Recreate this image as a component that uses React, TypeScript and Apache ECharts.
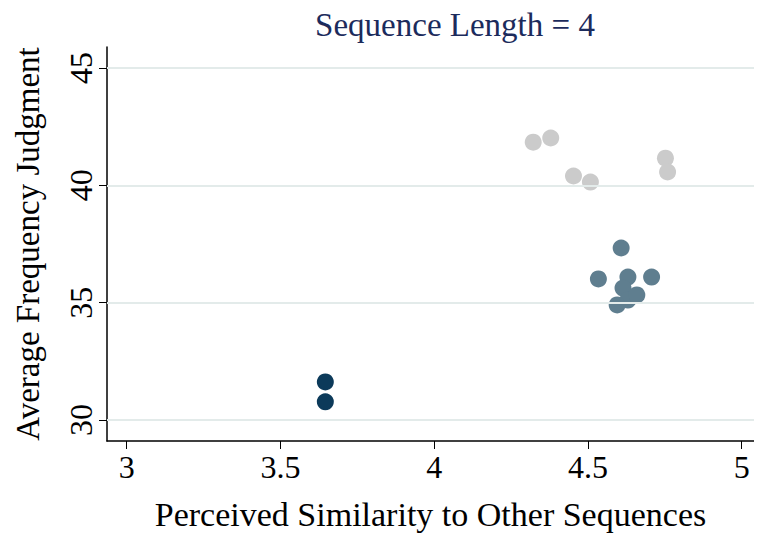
import React, { useEffect, useRef } from "react";
import * as echarts from "echarts";

const lightPts = [
  [4.322, 41.84], [4.379, 42.02], [4.453, 40.4], [4.508, 40.14], [4.752, 41.16], [4.759, 40.57],
];
const midPts = [
  [4.608, 37.33], [4.534, 36.01], [4.63, 36.09], [4.707, 36.09], [4.614, 35.62], [4.63, 35.11], [4.659, 35.33], [4.595, 34.9],
];
const darkPts = [
  [3.646, 31.62], [3.646, 30.77],
];
const xTicks = [3, 3.5, 4, 4.5, 5];
const yTicks = [30, 35, 40, 45];

const font = "Liberation Serif";

const App = () => {
  const ref = useRef<HTMLDivElement>(null);
  useEffect(() => {
    const chart = echarts.init(ref.current as HTMLDivElement, null, { renderer: "svg" });
    const pt = (data: number[][], color: string) => ({
      type: "scatter",
      data,
      symbolSize: 17,
      itemStyle: { color, opacity: 1 },
    });
    chart.setOption({
      animation: false,
      textStyle: { fontFamily: font },
      title: {
        text: "Sequence Length = 4",
        left: 442,
        top: -5,
        textAlign: "center",
        textStyle: { fontFamily: font, fontSize: 33, fontWeight: "normal", color: "#1c2b5c" },
      },
      grid: { left: 99, right: 0, top: 39, bottom: 92, outerBoundsMode: "none" },
      xAxis: {
        type: "value",
        min: 2.936,
        max: 5.04,
        name: "Perceived Similarity to Other Sequences",
        nameLocation: "middle",
        nameGap: 56,
        nameTextStyle: { fontFamily: font, fontSize: 34, color: "#000" },
        axisLine: { lineStyle: { color: "#000", width: 1.5 } },
        axisTick: { customValues: xTicks, length: 8, lineStyle: { color: "#000" } },
        axisLabel: { customValues: xTicks, fontFamily: font, fontSize: 32, color: "#000", margin: 10 },
        splitLine: { show: false },
      },
      yAxis: {
        type: "value",
        min: 29.1,
        max: 45.9,
        name: "Average Frequency Judgment",
        nameLocation: "middle",
        nameGap: 63,
        nameRotate: 90,
        nameTextStyle: { fontFamily: font, fontSize: 33, color: "#000" },
        axisLine: { show: true, lineStyle: { color: "#000", width: 1.5 } },
        axisTick: { show: true, customValues: yTicks, length: 8, lineStyle: { color: "#000" } },
        axisLabel: { customValues: yTicks, rotate: 90, fontFamily: font, fontSize: 32, color: "#000", margin: 10 },
        splitLine: { show: false },
      },
      series: [
        {
          type: "scatter",
          data: [],
          markLine: {
            silent: true,
            symbol: "none",
            label: { show: false },
            lineStyle: { color: "#e3ebea", type: "solid", width: 2 },
            data: yTicks.map((v) => ({ yAxis: v })),
          },
        },
        pt(lightPts, "#cbcbcb"),
        pt(midPts, "#5f7e8f"),
        pt(darkPts, "#0c3a5a"),
      ],
    });
    return () => chart.dispose();
  }, []);
  return <div ref={ref} style={{ width: 746, height: 525 }} />;
};

export default App;
